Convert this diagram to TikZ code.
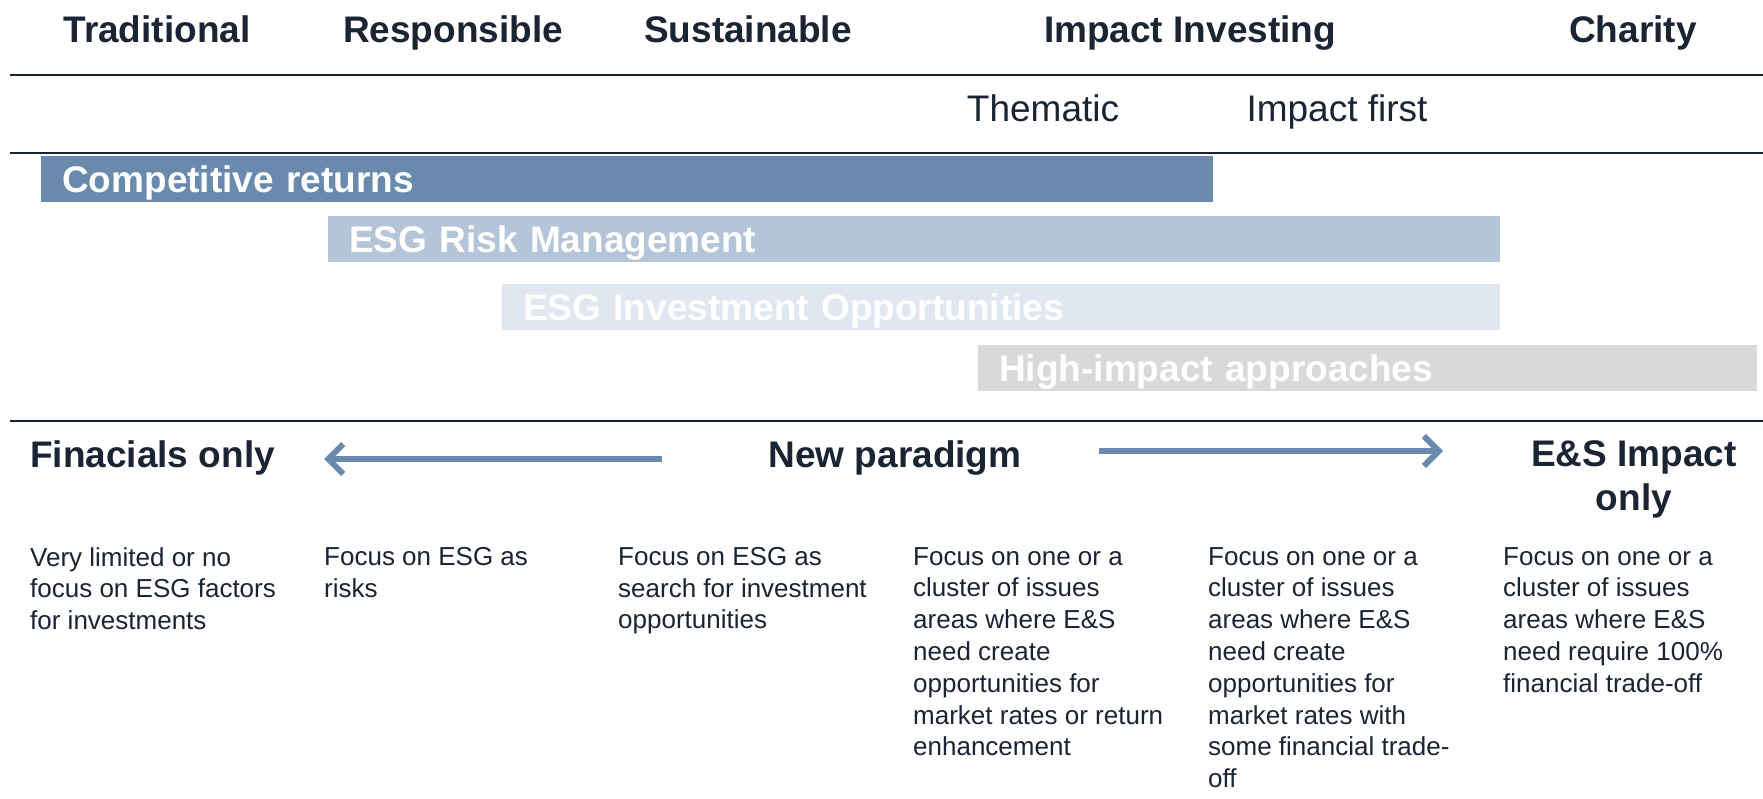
\documentclass[tikz,border=0pt]{standalone}
\usepackage{fontspec}
\setmainfont{Liberation Sans}
\usetikzlibrary{arrows.meta}
\definecolor{navy}{HTML}{1A2433}
\definecolor{retblue}{HTML}{6A8AAD}
\definecolor{riskblue}{HTML}{B4C5DA}
\definecolor{oppblue}{HTML}{E0E7F0}
\definecolor{highgrey}{HTML}{D9D9D9}
\tikzset{
  head/.style={font=\fontsize{37}{45}\selectfont\bfseries, text=navy, inner sep=0pt, anchor=base},
  sub/.style={font=\fontsize{37}{45}\selectfont, text=navy, inner sep=0pt, anchor=base},
  bar/.style={anchor=north west, inner xsep=21pt, inner ysep=9.5pt, text height=27pt, text depth=0pt,
    font=\fontsize{37}{45}\selectfont\bfseries, text=white, align=left},
  body/.style={font=\fontsize{26}{31.8}\selectfont, text=navy, inner sep=0pt, anchor=north west, align=left},
  rule/.style={line width=2.5pt, draw=navy},
  shiftarrow/.style={line width=6pt, draw=retblue, -{Straight Barb[length=15pt,width=30pt]}}
}
\begin{document}
\begin{tikzpicture}[x=1pt,y=-1pt]
		%%%%% START %%%%%
		\useasboundingbox (0,0) rectangle (1763,799);
		\fill[white] (0,0) rectangle (1763,799);
		
		% column heads
		\node[head] (trad) at (157,43) {Traditional};
		\node[head] (resp) at (453,43) {Responsible};
		\node[head] (sust) at (748,43) {Sustainable};
		\node[head] (impinv) at (1190,43) {Impact Investing};
		\node[head] (char) at (1633,43) {Charity};
		
		\draw[rule] (10,75) -- (1763,75);
		\node[sub] (them) at (1043,122) {Thematic};
		\node[sub] (first) at (1337,122) {Impact first};
		\draw[rule] (10,153) -- (1763,153);
		
		% bars
		\node[bar, fill=retblue, text width=1130pt] (ret) at (41,156) {Competitive returns};
		\node[bar, fill=riskblue, text width=1130pt] (risk) at (328,216) {ESG Risk Management};
		\node[bar, fill=oppblue, text width=956pt] (opp) at (502,284) {ESG Investment Opportunities};
		\node[bar, fill=highgrey, text width=737pt] (high) at (978,345) {High-impact approaches};
		
		\draw[rule] (10,421) -- (1763,421);
		
		% paradigm row
		\node[head, anchor=base west] (fin) at (30,467) {Finacials only};
		\node[head] (para) at (895,467) {New paradigm};
		\node[head, anchor=north, align=center, font=\fontsize{37}{44}\selectfont\bfseries] (esimp) at (1634,440) {E\&S Impact\\only};
		\coordinate (lfrom) at (662,459);
		\coordinate (lto) at (324,459);
		\coordinate (rfrom) at (1099,451);
		\coordinate (rto) at (1443,451);
		\draw[shiftarrow] (lfrom) -- (lto);
		\draw[shiftarrow] (rfrom) -- (rto);
		
		% descriptions
		\node[body] (d1) at (30,547) {Very limited or no\\focus on ESG factors\\for investments};
		\node[body] (d2) at (324,547) {Focus on ESG as\\risks};
		\node[body] (d3) at (618,547) {Focus on ESG as\\search for investment\\opportunities};
		\node[body] (d4) at (913,547) {Focus on one or a\\cluster of issues\\areas where E\&S\\need create\\opportunities for\\market rates or return\\enhancement};
		\node[body] (d5) at (1208,547) {Focus on one or a\\cluster of issues\\areas where E\&S\\need create\\opportunities for\\market rates with\\some financial trade-\\off};
		\node[body] (d6) at (1503,547) {Focus on one or a\\cluster of issues\\areas where E\&S\\need require 100\%\\financial trade-off};
		
		%%%%% END %%%%%
\end{tikzpicture}
\end{document}
